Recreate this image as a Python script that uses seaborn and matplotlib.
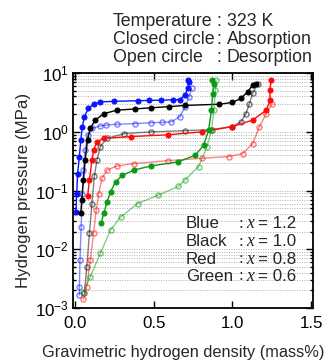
import numpy as np
import pandas as pd
import matplotlib
matplotlib.use("Agg")
import matplotlib.pyplot as plt
import seaborn as sns

# ---- data (mass%, MPa) ----
blue_abs_x = [0.006, 0.011, 0.017, 0.028, 0.037, 0.047, 0.060, 0.086, 0.118, 0.161, 0.25, 0.398, 0.47, 0.548, 0.62, 0.667, 0.700, 0.716, 0.725, 0.720]
blue_abs_logp = [-1.36, -1.05, -0.71, -0.42, -0.14, 0.09, 0.26, 0.40, 0.47, 0.51, 0.52, 0.53, 0.535, 0.54, 0.545, 0.55, 0.63, 0.74, 0.85, 0.89]
blue_des_x = [0.742, 0.725, 0.700, 0.667, 0.613, 0.55, 0.484, 0.38, 0.269, 0.20, 0.161, 0.108, 0.080, 0.065, 0.054, 0.047, 0.039, 0.032, 0.028, 0.028]
blue_des_logp = [0.74, 0.60, 0.43, 0.26, 0.17, 0.16, 0.155, 0.14, 0.13, 0.115, 0.10, 0.06, -0.055, -0.31, -0.65, -1.05, -1.62, -2.18, -2.64, -2.78]

black_abs_x = [0.037, 0.043, 0.054, 0.065, 0.080, 0.097, 0.129, 0.183, 0.269, 0.38, 0.484, 0.60, 0.700, 0.914, 1.000, 1.054, 1.097, 1.129, 1.150]
black_abs_logp = [-1.39, -1.16, -0.82, -0.48, -0.14, 0.06, 0.20, 0.31, 0.37, 0.39, 0.41, 0.43, 0.45, 0.47, 0.50, 0.57, 0.68, 0.80, 0.82]
black_des_x = [1.161, 1.129, 1.108, 1.086, 1.054, 1.000, 0.871, 0.699, 0.484, 0.312, 0.204, 0.161, 0.140, 0.123, 0.108, 0.092, 0.075, 0.060]
black_des_logp = [0.81, 0.66, 0.48, 0.31, 0.17, 0.09, 0.04, 0.02, 0.00, -0.03, -0.11, -0.25, -0.48, -0.76, -1.22, -1.73, -2.30, -2.75]

red_abs_x = [0.080, 0.092, 0.108, 0.118, 0.140, 0.183, 0.355, 0.591, 0.806, 1.000, 1.129, 1.215, 1.240, 1.237, 1.247]
red_abs_logp = [-1.10, -0.82, -0.48, -0.31, -0.17, -0.11, -0.08, -0.05, 0.00, 0.09, 0.20, 0.37, 0.54, 0.71, 0.88]
red_des_x = [1.254, 1.215, 1.172, 1.129, 1.065, 0.978, 0.806, 0.591, 0.376, 0.269, 0.204, 0.172, 0.151, 0.135, 0.118, 0.097, 0.075, 0.054]
red_des_logp = [0.48, 0.31, 0.09, -0.20, -0.37, -0.42, -0.45, -0.49, -0.54, -0.58, -0.65, -0.79, -1.05, -1.33, -1.73, -2.18, -2.64, -2.85]

green_abs_x = [0.166, 0.183, 0.204, 0.226, 0.258, 0.301, 0.376, 0.484, 0.656, 0.763, 0.817, 0.849, 0.867, 0.875, 0.882, 0.871]
green_abs_logp = [-1.55, -1.39, -1.19, -1.02, -0.85, -0.74, -0.65, -0.58, -0.51, -0.40, -0.23, 0.03, 0.37, 0.65, 0.82, 0.88]
green_des_x = [0.897, 0.892, 0.882, 0.867, 0.839, 0.785, 0.699, 0.656, 0.527, 0.398, 0.290, 0.226, 0.161, 0.097, 0.054]
green_des_logp = [0.88, 0.71, 0.37, 0.03, -0.25, -0.59, -0.82, -0.93, -1.08, -1.22, -1.45, -1.67, -2.07, -2.47, -2.72]

series = [
    ("Blue", "#0a14ff", blue_abs_x, blue_abs_logp, blue_des_x, blue_des_logp),
    ("Black", "#000000", black_abs_x, black_abs_logp, black_des_x, black_des_logp),
    ("Red", "#ff0a0a", red_abs_x, red_abs_logp, red_des_x, red_des_logp),
    ("Green", "#0a9a14", green_abs_x, green_abs_logp, green_des_x, green_des_logp),
]

legend_names = ["Blue", "Black", "Red", "Green"]
legend_vals = ["1.2", "1.0", "0.8", "0.6"]

sns.set_theme(style="ticks")
plt.rcParams['font.family'] = ['Liberation Sans', 'DejaVu Sans']
plt.rcParams['mathtext.fontset'] = 'custom'
plt.rcParams['mathtext.rm'] = 'Liberation Sans'

FS = 12.2
fig = plt.figure(figsize=(3.36, 3.62), dpi=100)
ax = fig.add_axes([0.217, 0.149, 0.715, 0.649])

for name, col, ax_x, ax_lp, dx, dlp in series:
    da = pd.DataFrame({"x": ax_x, "p": 10 ** np.array(ax_lp)})
    dd = pd.DataFrame({"x": dx, "p": 10 ** np.array(dlp)})
    sns.lineplot(data=dd, x="x", y="p", sort=False, estimator=None, ax=ax,
                 color=col, alpha=0.5, lw=1.0, marker="o", markersize=3.6,
                 markerfacecolor="none", markeredgecolor=col, markeredgewidth=1.1)
    sns.lineplot(data=da, x="x", y="p", sort=False, estimator=None, ax=ax,
                 color=col, lw=1.0, marker="o", markersize=3.6,
                 markerfacecolor=col, markeredgecolor=col)

ax.set_yscale("log")
ax.set_xlim(-0.013, 1.513)
ax.set_ylim(1e-3, 1e1)
ax.set_xticks([0.0, 0.5, 1.0, 1.5])
ax.set_xticklabels(["0.0", "0.5", "1.0", "1.5"])
ax.yaxis.grid(True, which="both", color="#b0b0b0", linestyle=(0, (1, 1.5)), lw=0.7)
ax.tick_params(axis="both", which="both", direction="in", top=True, right=True,
               labelsize=FS, colors="black", width=1)
ax.tick_params(axis="x", which="major", pad=6)
ax.tick_params(axis="y", which="major", pad=3)
ax.tick_params(axis="both", which="major", length=5)
ax.tick_params(axis="y", which="minor", length=2.5)
for s in ax.spines.values():
    s.set_linewidth(1.3)
    s.set_color("black")
ax.set_xlabel("Gravimetric hydrogen density (mass%)", fontsize=FS - 0.4)
ax.xaxis.set_label_coords((183 - 73) / 240, -(352 - 308) / 235, transform=ax.transAxes)
ax.xaxis.label.set_va("center")
ax.set_ylabel("Hydrogen pressure (MPa)", fontsize=FS, labelpad=3)

# header text
hdr_left = ["Temperature", "Closed circle", "Open circle"]
hdr_right = ["323 K", "Absorption", "Desorption"]
for i, (l, r) in enumerate(zip(hdr_left, hdr_right)):
    y = 1 - (22 + 17.5 * i) / 362
    fig.text(113 / 336, y, l, fontsize=FS + 0.6, va="center", ha="left")
    fig.text(216 / 336, y, ":", fontsize=FS + 0.6, va="center", ha="left")
    fig.text(227 / 336, y, r, fontsize=FS + 0.6, va="center", ha="left")

# in-plot legend text
for i, (n, v) in enumerate(zip(legend_names, legend_vals)):
    y = 1 - (224 + 17.5 * i) / 362
    fig.text(186 / 336, y, n, fontsize=FS, va="center", ha="left")
    fig.text(239 / 336, y, ":", fontsize=FS, va="center", ha="left",
             family=["Liberation Serif"])
    fig.text(246 / 336, y, "x", fontsize=FS + 0.5, va="center", ha="left",
             family=["Liberation Serif"], style="italic")
    fig.text(258 / 336, y, "= " + v, fontsize=FS, va="center", ha="left")

fig.savefig("out.png", dpi=100)
